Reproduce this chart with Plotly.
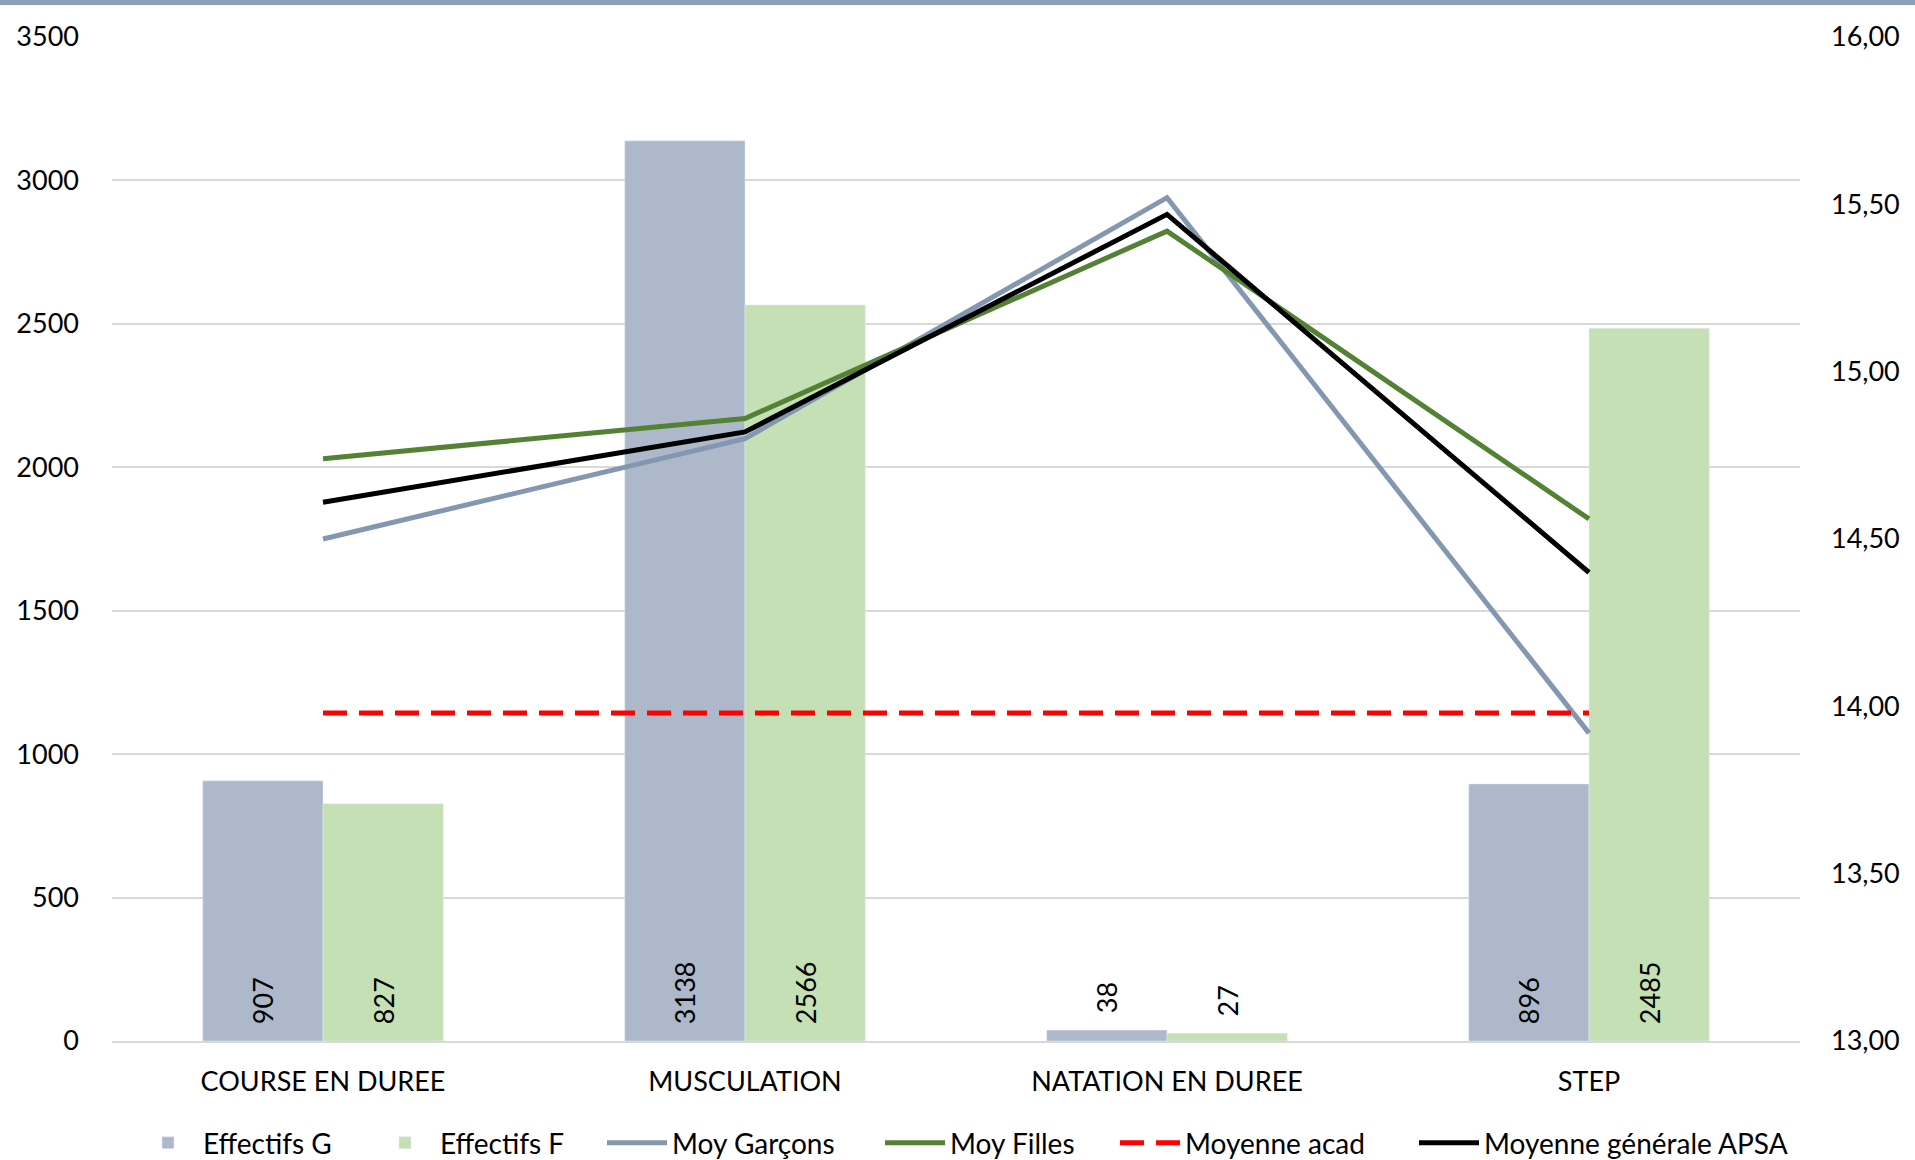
import plotly.graph_objects as go

categories = ["COURSE EN DUREE", "MUSCULATION", "NATATION EN DUREE", "STEP"]
eff_g = [907, 3138, 38, 896]
eff_f = [827, 2566, 27, 2485]
moy_garcons = [14.50, 14.80, 15.52, 13.92]
moy_filles = [14.74, 14.86, 15.42, 14.56]
moy_acad = [13.98, 13.98, 13.98, 13.98]
moy_apsa = [14.61, 14.82, 15.47, 14.40]

FONT = "Lato"
W, H = 1915, 1160
L, R, T, B = 112, 115, 37, 119
PW = W - L - R
PH = H - T - B

fig = go.Figure()

bar_common = dict(
    textposition="auto", insidetextanchor="start", textangle=-90,
    texttemplate="\u00a0\u00a0%{y}",
    textfont=dict(family=FONT, size=27, color="black"),
    insidetextfont=dict(family=FONT, size=27, color="black"),
    outsidetextfont=dict(family=FONT, size=27, color="black"),
    cliponaxis=False,
)
fig.add_trace(go.Bar(x=categories, y=eff_g, name="Effectifs G", marker_color="#ADB9CA",
                     legend="legend", **bar_common))
fig.add_trace(go.Bar(x=categories, y=eff_f, name="Effectifs F", marker_color="#C5E0B4",
                     legend="legend2", **bar_common))

LW = 5
fig.add_trace(go.Scatter(x=categories, y=moy_garcons, name="Moy Garçons", mode="lines",
                         line=dict(color="#8497B0", width=LW), yaxis="y2", legend="legend3"))
fig.add_trace(go.Scatter(x=categories, y=moy_filles, name="Moy Filles", mode="lines",
                         line=dict(color="#548235", width=LW), yaxis="y2", legend="legend4"))
fig.add_trace(go.Scatter(x=categories, y=moy_acad, name="Moyenne acad", mode="lines",
                         line=dict(color="#FF0000", width=LW, dash="24px,12px"), yaxis="y2", legend="legend5"))
fig.add_trace(go.Scatter(x=categories, y=moy_apsa, name="Moyenne générale APSA", mode="lines",
                         line=dict(color="#000000", width=LW), yaxis="y2", legend="legend6"))

# legend text starting positions (px) in the reference
text_starts = [203, 440, 672, 950, 1185, 1484]
legend_y = -(1143 - (T + PH)) / PH
legends = {}
for i, xs in enumerate(text_starts):
    key = "legend" if i == 0 else f"legend{i+1}"
    legends[key] = dict(
        x=(xs - 70 - L) / PW, xanchor="left", y=legend_y, yanchor="middle",
        orientation="h", bgcolor="rgba(0,0,0,0)",
        font=dict(family=FONT, size=28, color="black"),
        itemwidth=60,
    )

fig.update_layout(
    width=W, height=H,
    margin=dict(l=L, r=R, t=T, b=B, autoexpand=False),
    paper_bgcolor="white", plot_bgcolor="white",
    barmode="group", bargap=0.43, bargroupgap=0,
    separators=", ",
    font=dict(family=FONT, size=27, color="black"),
    xaxis=dict(
        showgrid=False, showline=True, linecolor="#D9D9D9", linewidth=2,
        ticks="", tickfont=dict(family=FONT, size=27, color="black"),
        ticklabelstandoff=16,
    ),
    yaxis=dict(
        range=[0, 3500], dtick=500, showgrid=True, gridcolor="#D9D9D9", gridwidth=1.5,
        zeroline=False, showline=False, ticks="",
        tickfont=dict(family=FONT, size=27, color="black"),
        ticklabelstandoff=32,
    ),
    yaxis2=dict(
        range=[13, 16], dtick=0.5, tickformat=".2f", overlaying="y", side="right",
        showgrid=False, zeroline=False, showline=False, ticks="",
        tickfont=dict(family=FONT, size=27, color="black"),
        ticklabelstandoff=30,
    ),
    showlegend=True,
    **legends,
)

# top band
fig.add_shape(type="rect", xref="paper", yref="paper",
              x0=-L / PW, x1=1 + R / PW, y0=1 + (T - 5) / PH, y1=1 + T / PH,
              fillcolor="#8E9FBD", line_width=0, layer="above")

fig.write_html("out.html", config={"displayModeBar": False},
               post_script="document.body.style.margin='0';document.body.style.overflow='hidden';")
